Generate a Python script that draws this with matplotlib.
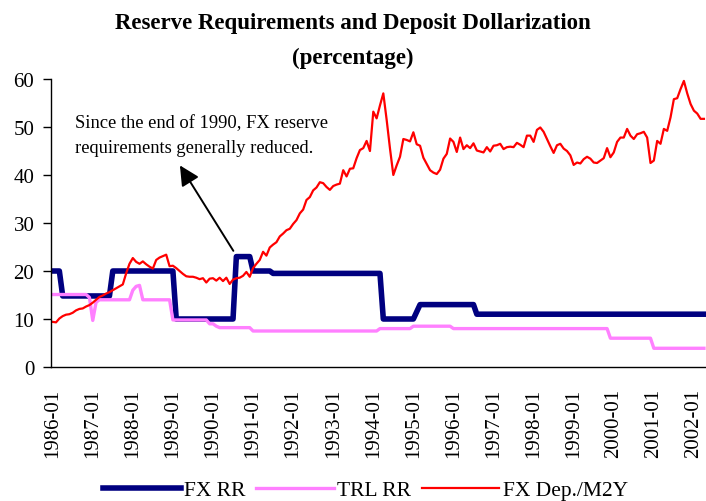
import numpy as np
import pandas as pd
import matplotlib
matplotlib.use("Agg")
import matplotlib.pyplot as plt

plt.rcParams['font.family'] = ['Liberation Serif', 'DejaVu Serif']

# monthly categories 1986-01 .. 2002-04
months = pd.period_range('1986-01', periods=196, freq='M').strftime('%Y-%m').tolist()
year_labels = ['1986-01', '1987-01', '1988-01', '1989-01', '1990-01', '1991-01',
               '1992-01', '1993-01', '1994-01', '1995-01', '1996-01', '1997-01',
               '1998-01', '1999-01', '2000-01', '2001-01', '2002-01']

# FX reserve requirement (%), one row per year
fx_rr = [
    20, 20, 20, 14.8, 14.8, 14.8, 14.8, 14.8, 14.8, 14.8, 14.8, 14.8,   # 1986
    14.8, 14.8, 14.8, 14.8, 14.8, 14.8, 20, 20, 20, 20, 20, 20,         # 1987
    20, 20, 20, 20, 20, 20, 20, 20, 20, 20, 20, 20,                     # 1988
    20, 10, 10, 10, 10, 10, 10, 10, 10, 10, 10, 10,                     # 1989
    10, 10, 10, 10, 10, 10, 10, 23, 23, 23, 23, 23,                     # 1990
    20, 20, 20, 20, 20, 20, 19.5, 19.5, 19.5, 19.5, 19.5, 19.5,         # 1991
    19.5, 19.5, 19.5, 19.5, 19.5, 19.5, 19.5, 19.5, 19.5, 19.5, 19.5, 19.5,  # 1992
    19.5, 19.5, 19.5, 19.5, 19.5, 19.5, 19.5, 19.5, 19.5, 19.5, 19.5, 19.5,  # 1993
    19.5, 19.5, 19.5, 10, 10, 10, 10, 10, 10, 10, 10, 10,               # 1994
    10, 11.5, 13, 13, 13, 13, 13, 13, 13, 13, 13, 13,                   # 1995
    13, 13, 13, 13, 13, 13, 13, 11, 11, 11, 11, 11,                     # 1996
    11, 11, 11, 11, 11, 11, 11, 11, 11, 11, 11, 11,                     # 1997
    11, 11, 11, 11, 11, 11, 11, 11, 11, 11, 11, 11,                     # 1998
    11, 11, 11, 11, 11, 11, 11, 11, 11, 11, 11, 11,                     # 1999
    11, 11, 11, 11, 11, 11, 11, 11, 11, 11, 11, 11,                     # 2000
    11, 11, 11, 11, 11, 11, 11, 11, 11, 11, 11, 11,                     # 2001
    11, 11, 11, 11,                                                     # 2002
]

# TRL reserve requirement (%)
trl_rr = [
    15.1, 15.1, 15.1, 15.1, 15.1, 15.1, 15.1, 15.1, 15.1, 15.1, 15.1, 14.5,  # 1986
    9.7, 13.5, 14, 14, 14, 14, 14, 14, 14, 14, 14, 14,                  # 1987
    16, 16.8, 17, 14, 14, 14, 14, 14, 14, 14, 14, 14,                   # 1988
    9.8, 9.8, 9.8, 9.8, 9.8, 9.8, 9.8, 9.8, 9.8, 9.8, 9.8, 9.0,         # 1989
    9.0, 8.5, 8.2, 8.2, 8.2, 8.2, 8.2, 8.2, 8.2, 8.2, 8.2, 8.2,         # 1990
    7.5, 7.5, 7.5, 7.5, 7.5, 7.5, 7.5, 7.5, 7.5, 7.5, 7.5, 7.5,         # 1991
    7.5, 7.5, 7.5, 7.5, 7.5, 7.5, 7.5, 7.5, 7.5, 7.5, 7.5, 7.5,         # 1992
    7.5, 7.5, 7.5, 7.5, 7.5, 7.5, 7.5, 7.5, 7.5, 7.5, 7.5, 7.5,         # 1993
    7.5, 7.5, 8, 8, 8, 8, 8, 8, 8, 8, 8, 8,                             # 1994
    8.5, 8.5, 8.5, 8.5, 8.5, 8.5, 8.5, 8.5, 8.5, 8.5, 8.5, 8.5,         # 1995
    8, 8, 8, 8, 8, 8, 8, 8, 8, 8, 8, 8,                                 # 1996
    8, 8, 8, 8, 8, 8, 8, 8, 8, 8, 8, 8,                                 # 1997
    8, 8, 8, 8, 8, 8, 8, 8, 8, 8, 8, 8,                                 # 1998
    8, 8, 8, 8, 8, 8, 8, 8, 8, 8, 8, 6,                                 # 1999
    6, 6, 6, 6, 6, 6, 6, 6, 6, 6, 6, 6,                                 # 2000
    3.9, 3.9, 3.9, 3.9, 3.9, 3.9, 3.9, 3.9, 3.9, 3.9, 3.9, 3.9,         # 2001
    3.9, 3.9, 3.9, 3.9,                                                 # 2002
]

# FX deposits / M2Y (%)
fx_dep = [
    9.4, 9.3, 10.1, 10.6, 10.9, 11.0, 11.3, 11.8, 12.1, 12.2, 12.6, 12.9,     # 1986
    13.4, 14.0, 14.6, 14.9, 15.3, 15.6, 16.0, 16.4, 16.8, 17.2, 19.5, 21.5,   # 1987
    22.7, 21.9, 21.5, 22.0, 21.4, 20.9, 20.5, 22.3, 22.8, 23.1, 23.4, 21.0,   # 1988
    21.1, 20.6, 20.0, 19.4, 18.9, 18.8, 18.8, 18.6, 18.3, 18.5, 17.6, 18.4,   # 1989
    18.5, 18.0, 18.6, 17.9, 18.6, 17.3, 18.2, 18.5, 18.6, 19.0, 19.8, 18.8,   # 1990
    20.6, 21.5, 22.3, 24.0, 23.2, 24.9, 25.5, 26.0, 27.2, 27.8, 28.5, 28.8,   # 1991
    29.8, 30.6, 32.0, 32.8, 34.8, 35.4, 36.8, 37.4, 38.5, 38.3, 37.5, 36.9,   # 1992
    37.7, 38.0, 38.2, 41.0, 39.7, 41.3, 41.4, 43.5, 45.2, 45.6, 47.1, 45.0,   # 1993
    53.2, 51.8, 54.5, 57.0, 51.5, 45.5, 40.0, 42.0, 43.8, 47.5, 47.3, 47.0,   # 1994
    48.9, 46.4, 46.1, 43.6, 42.3, 41.0, 40.5, 40.2, 41.1, 43.4, 44.4, 47.6,   # 1995
    46.9, 44.8, 47.8, 45.4, 46.2, 45.6, 46.6, 45.1, 44.9, 44.7, 45.8, 44.9,   # 1996
    46.1, 46.2, 46.5, 45.4, 45.8, 45.9, 45.8, 46.7, 46.3, 45.8, 48.2, 48.2,   # 1997
    46.9, 49.4, 49.9, 49.0, 47.5, 46.0, 44.6, 46.2, 46.5, 45.5, 45.0, 44.1,   # 1998
    42.1, 42.6, 42.4, 43.3, 43.8, 43.4, 42.6, 42.5, 43.0, 43.5, 45.6, 43.7,   # 1999
    44.7, 46.9, 47.8, 47.8, 49.6, 48.2, 47.5, 48.5, 48.7, 49.0, 47.8, 42.5,   # 2000
    43.0, 47.1, 46.5, 49.6, 49.2, 52.0, 55.8, 56.0, 57.9, 59.6, 57.0, 54.8,   # 2001
    53.4, 52.8, 51.7, 51.7,                                                   # 2002
]

fig = plt.figure(figsize=(7.06, 5.02), dpi=100)
ax = fig.add_axes([51 / 706, 1 - 368 / 502, 654.6 / 706, 288 / 502])

x = np.arange(len(months))
ax.plot(x, fx_rr, color='#000080', lw=4.0, label='FX RR')
ax.plot(x, trl_rr, color='#FF80FF', lw=2.4, label='TRL RR')
ax.plot(x, fx_dep, color='#FF0000', lw=1.6, label='FX Dep./M2Y')

ax.set_xlim(-0.5, len(months) - 0.5)
ax.set_ylim(0, 60)
ax.set_yticks([0, 10, 20, 30, 40, 50, 60])
ax.set_xticks([months.index(lbl) for lbl in year_labels])
ax.set_xticklabels(year_labels, rotation=90)
ax.tick_params(axis='y', labelsize=15, length=6, width=1, pad=6)
ax.tick_params(axis='x', labelsize=15, length=0, pad=15)
for side in ['top', 'right']:
    ax.spines[side].set_visible(False)
ax.spines['left'].set_linewidth(1)
ax.spines['bottom'].set_linewidth(1)

fig.text(0.5, 1 - 23 / 502, 'Reserve Requirements and Deposit Dollarization',
         ha='center', va='center', fontsize=16.5, fontweight='bold')
fig.text(0.5, 1 - 58 / 502, '(percentage)',
         ha='center', va='center', fontsize=16.5, fontweight='bold')

ax.text(6.6, 48.3, 'Since the end of 1990, FX reserve\nrequirements generally reduced.',
        ha='left', va='center', fontsize=13.3, linespacing=1.6)
ax.annotate('', xy=(38.1, 42.0), xytext=(54.1, 24.2),
            arrowprops=dict(arrowstyle='-|>', color='black', lw=1.4,
                            mutation_scale=30, shrinkA=0, shrinkB=0))

fig.legend(loc='center', bbox_to_anchor=(365.5 / 706, 1 - 491 / 502), ncol=3,
           frameon=False, fontsize=15.5, handlelength=3.6, handletextpad=0.15,
           columnspacing=0.5)

fig.savefig('out.png', dpi=100)
